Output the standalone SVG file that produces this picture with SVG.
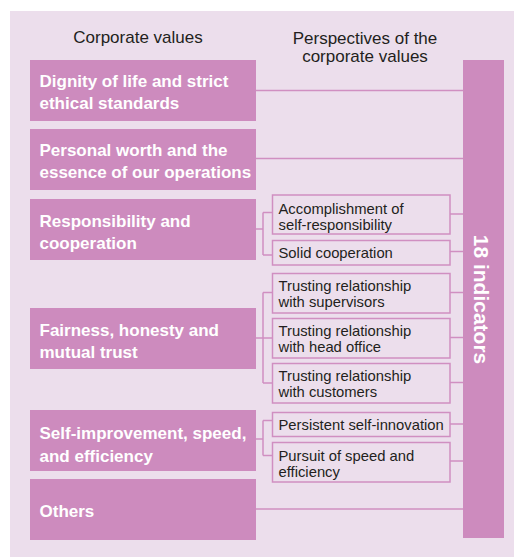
<svg xmlns="http://www.w3.org/2000/svg" width="515" height="557" viewBox="0 0 515 557">
  <style>
    .panel { fill: #ecdeec; }
    .value { fill: #cd8bbe; }
    .value-text { font-family: "Liberation Sans", Arial, sans-serif; font-weight: bold; font-size: 17px; fill: #ffffff; }
    .head { font-family: "Liberation Sans", Arial, sans-serif; font-size: 17px; fill: #231f20; text-anchor: middle; }
    .persp { fill: #ecdeec; stroke: #d08fc1; stroke-width: 1.5; }
    .persp-text { font-family: "Liberation Sans", Arial, sans-serif; font-size: 14.8px; fill: #231f20; }
    .link { fill: none; stroke: #d08fc1; stroke-width: 1.5; }
    .bar-text { font-family: "Liberation Sans", Arial, sans-serif; font-weight: bold; font-size: 21px; fill: #ffffff; text-anchor: middle; }
  </style>

  <!-- background panel -->
  <rect class="panel" x="10" y="11" width="504" height="546"/>

  <!-- column headings -->
  <g id="headings">
    <text class="head" x="138" y="43">Corporate values</text>
    <text class="head" x="365" y="44">Perspectives of the</text>
    <text class="head" x="365" y="62">corporate values</text>
  </g>

  <!-- connectors -->
  <g id="connectors">
    <path class="link" d="M256 90.5H463"/>
    <path class="link" d="M256 158.5H463"/>
    <path class="link" d="M256 229H263M263 212.5V255M263 212.5H272M263 255H272"/>
    <path class="link" d="M450 214H463M450 251.5H463"/>
    <path class="link" d="M256 338H263M263 292.5V383M263 292.5H272M263 338H272M263 383H272"/>
    <path class="link" d="M450 292.5H463M450 337.5H463M450 382.5H463"/>
    <path class="link" d="M256 439H263M263 420.5V455.5M263 420.5H272M263 455.5H272"/>
    <path class="link" d="M450 424H463M450 461H463"/>
    <path class="link" d="M256 509H463"/>
  </g>

  <!-- corporate values -->
  <g id="value-dignity">
    <rect class="value" x="30" y="60" width="226" height="61"/>
    <text class="value-text" x="39.5" y="87">Dignity of life and strict</text>
    <text class="value-text" x="39.5" y="109">ethical standards</text>
  </g>
  <g id="value-worth">
    <rect class="value" x="30" y="129" width="226" height="61"/>
    <text class="value-text" x="39.5" y="156">Personal worth and the</text>
    <text class="value-text" x="39.5" y="178">essence of our operations</text>
  </g>
  <g id="value-responsibility">
    <rect class="value" x="30" y="199" width="226" height="61"/>
    <text class="value-text" x="39.5" y="227">Responsibility and</text>
    <text class="value-text" x="39.5" y="249">cooperation</text>
  </g>
  <g id="value-fairness">
    <rect class="value" x="30" y="308" width="226" height="61"/>
    <text class="value-text" x="39.5" y="336">Fairness, honesty and</text>
    <text class="value-text" x="39.5" y="358">mutual trust</text>
  </g>
  <g id="value-improvement">
    <rect class="value" x="30" y="410" width="226" height="61"/>
    <text class="value-text" x="39.5" y="439">Self-improvement, speed,</text>
    <text class="value-text" x="39.5" y="461.5">and efficiency</text>
  </g>
  <g id="value-others">
    <rect class="value" x="30" y="479" width="226" height="61"/>
    <text class="value-text" x="39.5" y="517">Others</text>
  </g>

  <!-- perspectives -->
  <g id="persp-accomplishment">
    <rect class="persp" x="272.5" y="195" width="177.5" height="39"/>
    <text class="persp-text" x="278.5" y="213.5">Accomplishment of</text>
    <text class="persp-text" x="278.5" y="229.5">self-responsibility</text>
  </g>
  <g id="persp-cooperation">
    <rect class="persp" x="272.5" y="240.5" width="177.5" height="24.5"/>
    <text class="persp-text" x="278.5" y="258">Solid cooperation</text>
  </g>
  <g id="persp-supervisors">
    <rect class="persp" x="272.5" y="273.5" width="177.5" height="39.5"/>
    <text class="persp-text" x="278.5" y="291">Trusting relationship</text>
    <text class="persp-text" x="278.5" y="307">with supervisors</text>
  </g>
  <g id="persp-head-office">
    <rect class="persp" x="272.5" y="318.5" width="177.5" height="39.5"/>
    <text class="persp-text" x="278.5" y="336">Trusting relationship</text>
    <text class="persp-text" x="278.5" y="352">with head office</text>
  </g>
  <g id="persp-customers">
    <rect class="persp" x="272.5" y="363.5" width="177.5" height="39.5"/>
    <text class="persp-text" x="278.5" y="381">Trusting relationship</text>
    <text class="persp-text" x="278.5" y="397">with customers</text>
  </g>
  <g id="persp-innovation">
    <rect class="persp" x="272.5" y="412.5" width="177.5" height="24"/>
    <text class="persp-text" x="278.5" y="430">Persistent self-innovation</text>
  </g>
  <g id="persp-speed">
    <rect class="persp" x="272.5" y="442.5" width="177.5" height="39.5"/>
    <text class="persp-text" x="278.5" y="460.5">Pursuit of speed and</text>
    <text class="persp-text" x="278.5" y="476.5">efficiency</text>
  </g>

  <!-- indicators bar -->
  <g id="indicators">
    <rect class="value" x="463" y="60" width="41" height="478"/>
    <text class="bar-text" transform="translate(473.5 299.5) rotate(90)">18 indicators</text>
  </g>
</svg>
